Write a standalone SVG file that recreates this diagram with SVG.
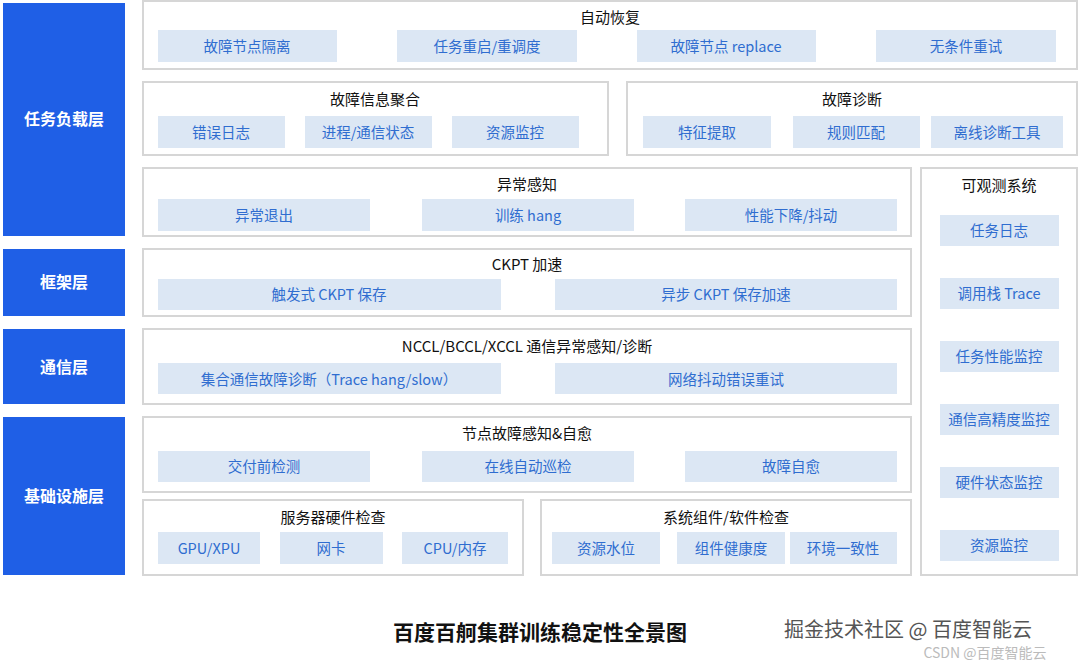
<svg xmlns="http://www.w3.org/2000/svg" width="1080" height="663" viewBox="0 0 1080 663">
<style>
text{font-family:"Noto Sans CJK SC","Noto Sans",sans-serif}
.lay{fill:#1f5fe6}
.lt{fill:#fff;font-size:16px;font-weight:bold;text-anchor:middle;dominant-baseline:central}
.p{fill:#fff;stroke:#d6d6d6;stroke-width:2}
.pt{fill:#111;font-size:15px;text-anchor:middle;dominant-baseline:central}
.c{fill:#dce7f4}
.ct{fill:#2f6dd0;font-size:14.5px;text-anchor:middle;dominant-baseline:central}
</style>
<rect width="1080" height="663" fill="#fff"/>
<g id="layers">
<rect class="lay" x="3" y="3" width="122" height="233"/><text class="lt" x="64" y="118">任务负载层</text>
<rect class="lay" x="3" y="249" width="122" height="67"/><text class="lt" x="64" y="281">框架层</text>
<rect class="lay" x="3" y="329" width="122" height="75"/><text class="lt" x="64" y="366">通信层</text>
<rect class="lay" x="3" y="417" width="122" height="158"/><text class="lt" x="64" y="495">基础设施层</text>
</g>
<g id="auto">
<rect class="p" x="143" y="1" width="934" height="68"/><text class="pt" x="610" y="16">自动恢复</text>
<rect class="c" x="158" y="30" width="179" height="32"/><text class="ct" x="247" y="45">故障节点隔离</text>
<rect class="c" x="397" y="30" width="180" height="32"/><text class="ct" x="487" y="45">任务重启/重调度</text>
<rect class="c" x="637" y="30" width="179" height="32"/><text class="ct" x="726" y="45">故障节点 replace</text>
<rect class="c" x="876" y="30" width="180" height="32"/><text class="ct" x="966" y="45">无条件重试</text>
</g>
<g id="agg">
<rect class="p" x="143" y="82" width="465" height="73"/><text class="pt" x="375" y="98">故障信息聚合</text>
<rect class="c" x="158" y="116" width="127" height="32"/><text class="ct" x="221" y="131">错误日志</text>
<rect class="c" x="305" y="116" width="127" height="32"/><text class="ct" x="368" y="131">进程/通信状态</text>
<rect class="c" x="452" y="116" width="127" height="32"/><text class="ct" x="515" y="131">资源监控</text>
</g>
<g id="diag">
<rect class="p" x="627" y="82" width="450" height="73"/><text class="pt" x="852" y="98">故障诊断</text>
<rect class="c" x="643" y="116" width="128" height="32"/><text class="ct" x="707" y="131">特征提取</text>
<rect class="c" x="793" y="116" width="127" height="32"/><text class="ct" x="856" y="131">规则匹配</text>
<rect class="c" x="931" y="116" width="132" height="32"/><text class="ct" x="997" y="131">离线诊断工具</text>
</g>
<g id="anom">
<rect class="p" x="143" y="168" width="768" height="68"/><text class="pt" x="527" y="183">异常感知</text>
<rect class="c" x="158" y="199" width="212" height="32"/><text class="ct" x="264" y="214">异常退出</text>
<rect class="c" x="422" y="199" width="212" height="32"/><text class="ct" x="528" y="214">训练 hang</text>
<rect class="c" x="685" y="199" width="212" height="32"/><text class="ct" x="791" y="214">性能下降/抖动</text>
</g>
<g id="obs">
<rect class="p" x="921" y="168" width="156" height="407"/><text class="pt" x="999" y="184">可观测系统</text>
<rect class="c" x="940" y="215" width="119" height="31"/><text class="ct" x="999" y="229">任务日志</text>
<rect class="c" x="940" y="278" width="119" height="31"/><text class="ct" x="999" y="292">调用栈 Trace</text>
<rect class="c" x="940" y="341" width="119" height="31"/><text class="ct" x="999" y="355">任务性能监控</text>
<rect class="c" x="940" y="404" width="119" height="31"/><text class="ct" x="999" y="418">通信高精度监控</text>
<rect class="c" x="940" y="467" width="119" height="31"/><text class="ct" x="999" y="481">硬件状态监控</text>
<rect class="c" x="940" y="530" width="119" height="31"/><text class="ct" x="999" y="544">资源监控</text>
</g>
<g id="ckpt">
<rect class="p" x="143" y="249" width="768" height="67"/><text class="pt" x="527" y="263">CKPT 加速</text>
<rect class="c" x="158" y="279" width="343" height="31"/><text class="ct" x="329" y="293">触发式 CKPT 保存</text>
<rect class="c" x="555" y="279" width="342" height="31"/><text class="ct" x="726" y="293">异步 CKPT 保存加速</text>
</g>
<g id="nccl">
<rect class="p" x="143" y="329" width="768" height="75"/><text class="pt" x="527" y="345">NCCL/BCCL/XCCL 通信异常感知/诊断</text>
<rect class="c" x="158" y="363" width="343" height="31"/><text class="ct" x="329" y="378">集合通信故障诊断（Trace hang/slow）</text>
<rect class="c" x="555" y="363" width="342" height="31"/><text class="ct" x="726" y="378">网络抖动错误重试</text>
</g>
<g id="node">
<rect class="p" x="143" y="417" width="768" height="75"/><text class="pt" x="527" y="432">节点故障感知&amp;自愈</text>
<rect class="c" x="158" y="451" width="212" height="31"/><text class="ct" x="264" y="465">交付前检测</text>
<rect class="c" x="422" y="451" width="212" height="31"/><text class="ct" x="528" y="465">在线自动巡检</text>
<rect class="c" x="685" y="451" width="212" height="31"/><text class="ct" x="791" y="465">故障自愈</text>
</g>
<g id="hw">
<rect class="p" x="143" y="500" width="380" height="75"/><text class="pt" x="333" y="516">服务器硬件检查</text>
<rect class="c" x="158" y="532" width="102" height="32"/><text class="ct" x="209" y="547">GPU/XPU</text>
<rect class="c" x="280" y="532" width="103" height="32"/><text class="ct" x="331" y="547">网卡</text>
<rect class="c" x="402" y="532" width="106" height="32"/><text class="ct" x="455" y="547">CPU/内存</text>
</g>
<g id="sw">
<rect class="p" x="541" y="500" width="370" height="75"/><text class="pt" x="726" y="516">系统组件/软件检查</text>
<rect class="c" x="552" y="532" width="108" height="32"/><text class="ct" x="606" y="547">资源水位</text>
<rect class="c" x="677" y="532" width="108" height="32"/><text class="ct" x="731" y="547">组件健康度</text>
<rect class="c" x="790" y="532" width="107" height="32"/><text class="ct" x="843" y="547">环境一致性</text>
</g>
<g id="connectors"/>
<text x="540" y="631" font-size="21" font-weight="bold" fill="#111" text-anchor="middle" dominant-baseline="central">百度百舸集群训练稳定性全景图</text>
<text x="908" y="628" font-size="20" fill="#555" text-anchor="middle" dominant-baseline="central">掘金技术社区 @ 百度智能云</text>
<text x="985" y="652" font-size="14" fill="#bbb" text-anchor="middle" dominant-baseline="central">CSDN @百度智能云</text>
</svg>
